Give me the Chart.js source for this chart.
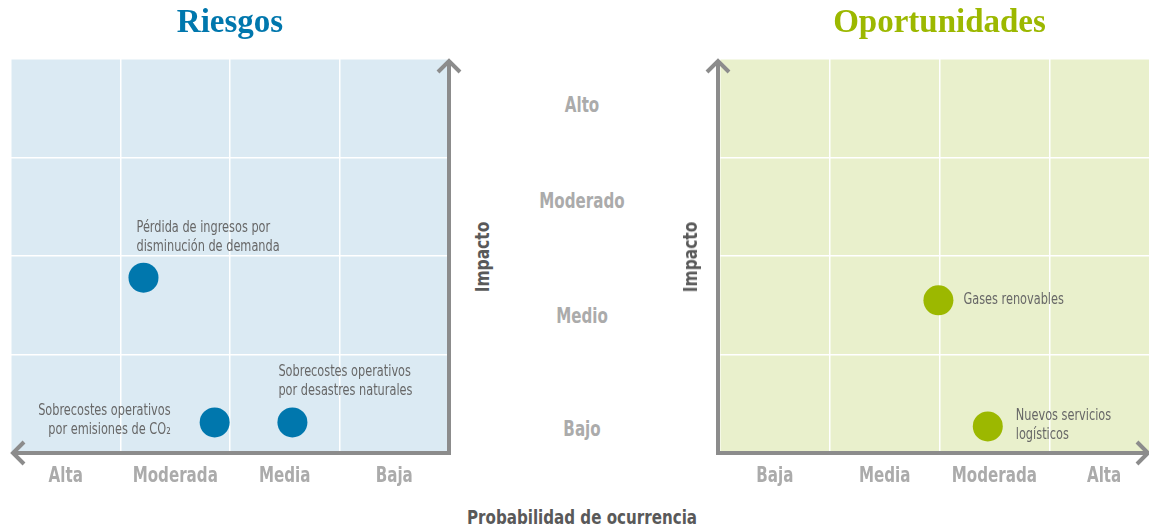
<!DOCTYPE html>
<html>
<head>
<meta charset="utf-8">
<script src="https://cdn.jsdelivr.net/npm/chart.js@4/dist/chart.umd.min.js"></script>
<style>
  html, body { margin: 0; padding: 0; background: #fff; }
  body { width: 1149px; height: 526px; position: relative; overflow: hidden; }
  .panel { position: absolute; top: 0; width: 470px; height: 500px; }
  .txt {
    position: absolute;
    font-family: 'Liberation Sans Narrow', 'DejaVu Sans Condensed', sans-serif;
    font-weight: bold; line-height: 1; white-space: nowrap;
  }
  .lvl { color: #ababab; font-size: 21px; transform: translate(-50%, -50%) scaleX(0.8); }
  .axt { color: #595959; font-size: 20px; transform: translate(-50%, -50%) scaleX(0.84); }
  .rot { transform: translate(-50%, -50%) rotate(-90deg) scaleX(0.86); }
</style>
</head>
<body>
<div class="panel" style="left:0"><canvas id="riesgos"></canvas></div>
<div class="panel" style="left:700px"><canvas id="oportunidades"></canvas></div>
<div id="labels"></div>

<script>
"use strict";

// data
const probLabels = ['Baja', 'Media', 'Moderada', 'Alta'];
const impactLabels = ['Bajo', 'Medio', 'Moderado', 'Alto'];

const riskNames = [
  ['Pérdida de ingresos por', 'disminución de demanda'],
  ['Sobrecostes operativos', 'por emisiones de CO₂'],
  ['Sobrecostes operativos', 'por desastres naturales'],
];
const riskProb = [2.79, 2.14, 1.43];
const riskImpact = [1.78, 0.31, 0.31];

const oppNames = [
  ['Gases renovables'],
  ['Nuevos servicios', 'logísticos'],
];
const oppProb = [1.99, 2.44];
const oppImpact = [1.55, 0.27];

// layout (not data)
const FONT = "'Liberation Sans Narrow', 'DejaVu Sans Condensed', sans-serif";
const AXIS_GREY = '#8c8c8c';
const labelPlace = {
  riesgos: [
    { dx: -7, dy: -50, align: 'left' },
    { dx: -44, dy: -11, align: 'right' },
    { dx: -14, dy: -50, align: 'left' },
  ],
  oportunidades: [
    { dx: 25, dy: 0, align: 'left' },
    { dx: 28, dy: -10, align: 'left' },
  ],
};
const levelY = [429, 316, 201, 105];

// centre labels + axis titles
const lab = document.getElementById('labels');
impactLabels.forEach((t, i) => {
  const d = document.createElement('div');
  d.className = 'txt lvl';
  d.style.left = '582px';
  d.style.top = levelY[i] + 'px';
  d.textContent = t;
  lab.appendChild(d);
});
[482, 690].forEach(x => {
  const d = document.createElement('div');
  d.className = 'txt axt rot';
  d.style.left = x + 'px';
  d.style.top = '257px';
  d.textContent = 'Impacto';
  lab.appendChild(d);
});
const pd = document.createElement('div');
pd.className = 'txt axt';
pd.style.left = '582px';
pd.style.top = '517px';
pd.textContent = 'Probabilidad de ocurrencia';
lab.appendChild(pd);

// condensed text helper (no narrow face installed)
function narrowText(ctx, text, x, y, sx) {
  ctx.save();
  ctx.translate(x, y);
  ctx.scale(sx, 1);
  ctx.fillText(text, 0, 0);
  ctx.restore();
}

// background, arrow axes, tick labels and point labels
const decoPlugin = {
  id: 'deco',
  beforeDraw(chart, args, opts) {
    const { ctx, chartArea: a } = chart;
    ctx.save();
    ctx.fillStyle = opts.bg;
    ctx.fillRect(a.left, a.top, a.right - a.left, a.bottom - a.top);
    ctx.restore();
  },
  afterDatasetsDraw(chart, args, opts) {
    const { ctx, chartArea: a } = chart;
    const h = 11;
    ctx.save();
    ctx.strokeStyle = AXIS_GREY;
    ctx.lineWidth = 4;
    const yx = opts.yAtRight ? a.right : a.left - 2;
    // vertical axis
    ctx.beginPath();
    ctx.moveTo(yx, a.bottom + 2);
    ctx.lineTo(yx, a.top + 2);
    ctx.stroke();
    ctx.beginPath();
    ctx.moveTo(yx - h, a.top + 2 + h);
    ctx.lineTo(yx, a.top + 2);
    ctx.lineTo(yx + h, a.top + 2 + h);
    ctx.stroke();
    // horizontal axis
    const tipX = opts.xLeft ? a.left + 2 : a.right - 11;
    const startX = opts.xLeft ? a.right + 2 : a.left - 4;
    ctx.beginPath();
    ctx.moveTo(startX, a.bottom);
    ctx.lineTo(tipX, a.bottom);
    ctx.stroke();
    const s = opts.xLeft ? 1 : -1;
    ctx.beginPath();
    ctx.moveTo(tipX + s * h, a.bottom - h);
    ctx.lineTo(tipX, a.bottom);
    ctx.lineTo(tipX + s * h, a.bottom + h);
    ctx.stroke();
    ctx.restore();

    // x tick labels from the scale
    const xs = chart.scales.x;
    ctx.save();
    ctx.fillStyle = '#ababab';
    ctx.font = 'bold 21px ' + FONT;
    ctx.textAlign = 'center';
    ctx.textBaseline = 'middle';
    xs.ticks.forEach((t, i) => {
      narrowText(ctx, probLabels[i], xs.getPixelForValue(t.value), a.bottom + 24, 0.8);
    });
    ctx.restore();

    // point labels
    const ds = chart.data.datasets[0];
    const meta = chart.getDatasetMeta(0);
    const place = labelPlace[chart.canvas.id];
    ctx.save();
    ctx.fillStyle = '#676767';
    ctx.font = '15px ' + FONT;
    ctx.textBaseline = 'middle';
    meta.data.forEach((pt, i) => {
      const p = place[i];
      ctx.textAlign = p.align;
      ds.names[i].forEach((line, j) => {
        narrowText(ctx, line, pt.x + p.dx, pt.y + p.dy + j * 19, 0.84);
      });
    });
    ctx.restore();
  },
};

function matrix(canvasId, opts) {
  const { title, color, bg, names, prob, impact, reverse, padding } = opts;
  const left = !!reverse;
  return new Chart(document.getElementById(canvasId), {
    type: 'scatter',
    data: {
      datasets: [{
        data: prob.map((x, i) => ({ x, y: impact[i] })),
        names,
        backgroundColor: color,
        borderWidth: 0,
        pointRadius: 15,
        pointHoverRadius: 15,
      }],
    },
    options: {
      responsive: true,
      maintainAspectRatio: false,
      animation: false,
      events: [],
      layout: { padding, autoPadding: false },
      plugins: {
        legend: { display: false },
        tooltip: { enabled: false },
        title: {
          display: true,
          text: title,
          color,
          font: { family: "'Liberation Serif', 'DejaVu Serif', serif", size: 33, weight: 'bold' },
          padding: { top: 4, bottom: 15.4 },
        },
        deco: { bg, xLeft: left, yAtRight: left },
      },
      scales: {
        x: {
          type: 'linear',
          min: 0,
          max: 4,
          reverse,
          afterBuildTicks: (axis) => { axis.ticks = [0.5, 1.5, 2.5, 3.5].map(v => ({ value: v })); },
          afterFit: (axis) => { axis.height = 47; },
          ticks: { display: false },
          grid: { display: false, drawTicks: false },
          border: { display: false },
        },
        x2: {
          type: 'linear',
          position: 'top',
          min: 0,
          max: 4,
          reverse,
          afterFit: (axis) => { axis.height = 0; },
          ticks: { display: false, stepSize: 1 },
          grid: { color: '#ffffff', lineWidth: 1.5, drawTicks: false },
          border: { display: false },
        },
        y: {
          type: 'linear',
          min: 0,
          max: 4,
          afterFit: (axis) => { axis.width = 0; },
          ticks: { display: false, stepSize: 1 },
          grid: { color: '#ffffff', lineWidth: 1.5, drawTicks: false },
          border: { display: false },
        },
      },
    },
    plugins: [decoPlugin],
  });
}

matrix('riesgos', {
  title: 'Riesgos',
  color: '#0077ad',
  bg: '#dbeaf3',
  names: riskNames,
  prob: riskProb,
  impact: riskImpact,
  reverse: true,
  padding: { left: 11, right: 21, top: 0, bottom: 0 },
});

matrix('oportunidades', {
  title: 'Oportunidades',
  color: '#9cb800',
  bg: '#e9f0cc',
  names: oppNames,
  prob: oppProb,
  impact: oppImpact,
  reverse: false,
  padding: { left: 20, right: 11, top: 0, bottom: 0 },
});
</script>
</body>
</html>
